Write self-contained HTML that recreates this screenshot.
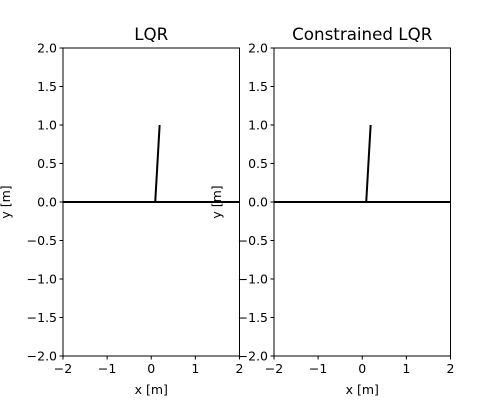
<!DOCTYPE html>
<html><head><meta charset="utf-8"><style>
body{margin:0;background:#fff;}
svg text{font-family:"DejaVu Sans","Liberation Sans",sans-serif;fill:#000;}
</style></head><body>
<svg id="c" width="500" height="400" xmlns="http://www.w3.org/2000/svg"></svg>
<script>
const titles = ["LQR", "Constrained LQR"];
const xTicks = [-2, -1, 0, 1, 2];
const yTicks = [-2.0, -1.5, -1.0, -0.5, 0.0, 0.5, 1.0, 1.5, 2.0];
const trackX = [-2, 2];
const trackY = [0, 0];
const poleX = [[0.09, 0.19], [0.09, 0.19]];
const poleY = [[0, 1], [0, 1]];
const panelLeft = [63, 274];
const NS = "http://www.w3.org/2000/svg";
const svg = document.getElementById('c');
function mk(tag, attrs, parent) {
  const e = document.createElementNS(NS, tag);
  for (const k in attrs) e.setAttribute(k, attrs[k]);
  (parent || svg).appendChild(e);
  return e;
}
const W = 176.5, T = 48, H = 308;
panelLeft.forEach((L, i) => {
  const g = mk('g', {});
  
  
  const sx = v => L + (v + 2) / 4 * W;
  const sy = v => T + (2 - v) / 4 * H;
  const frame = mk('rect', {x: L, y: T, width: W, height: H, fill: 'none', stroke: '#000', 'stroke-width': 1}, g);
  
  
  const track = mk('line', {x1: sx(trackX[0]), y1: sy(trackY[0]), x2: sx(trackX[1]), y2: sy(trackY[1]), stroke: '#000', 'stroke-width': 2}, g);
  
  
  const pole = mk('line', {x1: sx(poleX[i][0]), y1: sy(poleY[i][0]), x2: sx(poleX[i][1]), y2: sy(poleY[i][1]), stroke: '#000', 'stroke-width': 2}, g);
  
  
  xTicks.forEach(t => {
    mk('line', {x1: sx(t), y1: T + H, x2: sx(t), y2: T + H + 3.5, stroke: '#000'}, g);
    const tx = mk('text', {x: sx(t), y: T + H + 17, 'text-anchor': 'middle', 'font-size': 12.5}, g);
    tx.textContent = t < 0 ? '\u2212' + Math.abs(t) : String(t);
    
    
  });
  yTicks.forEach(t => {
    mk('line', {x1: L - 3.5, y1: sy(t), x2: L, y2: sy(t), stroke: '#000'}, g);
    const tx = mk('text', {x: L - 6, y: sy(t) + 4.5, 'text-anchor': 'end', 'font-size': 12.5}, g);
    tx.textContent = (t < 0 ? '\u2212' : '') + Math.abs(t).toFixed(1);
    
    
  });
  const title = mk('text', {x: L + W / 2, y: 40, 'text-anchor': 'middle', 'font-size': 16.7}, g);
  title.textContent = titles[i];
  
  
  const xl = mk('text', {x: L + W / 2, y: 394, 'text-anchor': 'middle', 'font-size': 12.5}, g);
  xl.textContent = 'x [m]';
  
  
  const yl = mk('text', {x: 0, y: 0, 'text-anchor': 'middle', 'font-size': 12.5, transform: `translate(${L - 53},${T + H / 2}) rotate(-90)`}, g);
  yl.textContent = 'y [m]';
  
  
});
</script>
</body></html>
